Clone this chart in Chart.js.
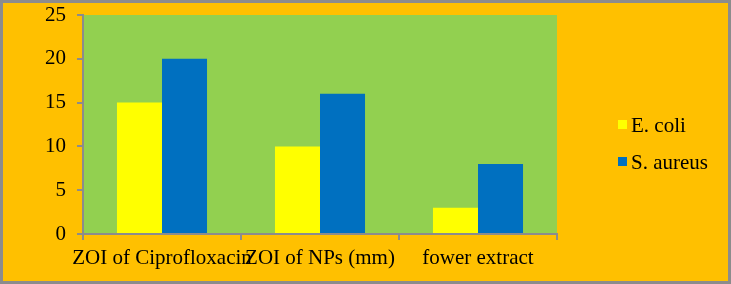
<!DOCTYPE html>
<html>
<head>
<meta charset="utf-8">
<script src="https://cdn.jsdelivr.net/npm/chart.js@4/dist/chart.umd.min.js"></script>
<style>
  html, body { margin: 0; padding: 0; background: #FFC000; }
  #wrap { width: 731px; height: 284px; }
</style>
</head>
<body>
<div id="wrap"><canvas id="c" width="731" height="284"></canvas></div>
<script>
/* DATA */
var categories = ["ZOI of Ciprofloxacin", "ZOI of NPs (mm)", "fower extract"];
var eColi = [15, 10, 3];
var sAureus = [20, 16, 8];
var seriesNames = ["E. coli", "S. aureus"];
var yTicks = [0, 5, 10, 15, 20, 25];

var FONT = "'Liberation Serif', 'Times New Roman', serif";
var GREY = "#8c8c8c";

// фон, зелёная область графика, рамка и легенда справа
var paintPlugin = {
    id: 'paint',
    beforeDraw: function (chart) {
        var ctx = chart.ctx, a = chart.chartArea;
        ctx.save();
        ctx.fillStyle = "#FFC000";
        ctx.fillRect(0, 0, chart.width, chart.height);
        ctx.fillStyle = "#92D050";
        ctx.fillRect(a.left, a.top, a.right - a.left, a.bottom - a.top);
        ctx.restore();
    },
    afterDraw: function (chart) {
        var ctx = chart.ctx;
        ctx.save();
        ctx.font = "21px " + FONT;
        ctx.textBaseline = "middle";
        chart.data.datasets.forEach(function (ds, i) {
            var y = 125 + i * 37;
            ctx.fillStyle = ds.backgroundColor;
            ctx.fillRect(618, y - 5, 9, 9);
            ctx.fillStyle = "#000";
            ctx.fillText(ds.label, 631, y + 1);
        });
        ctx.strokeStyle = GREY;
        ctx.lineWidth = 3;
        ctx.strokeRect(1.5, 1.5, chart.width - 3, chart.height - 3);
        ctx.restore();
    }
};

new Chart(document.getElementById('c').getContext('2d'), {
    type: 'bar',
    data: {
        labels: categories,
        datasets: [
            { label: seriesNames[0], data: eColi, backgroundColor: "#FFFF00",
              categoryPercentage: 0.57, barPercentage: 1.0 },
            { label: seriesNames[1], data: sAureus, backgroundColor: "#0070C0",
              categoryPercentage: 0.57, barPercentage: 1.0 }
        ]
    },
    options: {
        responsive: false,
        animation: false,
        layout: { padding: { left: 0, top: 15, right: 174, bottom: 0 } },
        scales: {
            x: {
                offset: true,
                grid: { offset: true, drawOnChartArea: false, color: GREY, lineWidth: 2, tickLength: 6 },
                border: { color: GREY, width: 2 },
                ticks: {
                    autoSkip: false, maxRotation: 0, minRotation: 0,
                    color: "#000", padding: 6,
                    font: { family: FONT, size: 21 }
                },
                afterFit: function (s) { s.height = 50; s.paddingLeft = 0; s.paddingRight = 0; }
            },
            y: {
                min: 0, max: 25,
                afterBuildTicks: function (s) { s.ticks = yTicks.map(function (v) { return { value: v }; }); },
                grid: { drawOnChartArea: false, color: GREY, lineWidth: 2, tickLength: 6 },
                border: { color: GREY, width: 2 },
                ticks: {
                    color: "#000", padding: 11,
                    font: { family: FONT, size: 21 }
                },
                afterFit: function (s) { s.width = 83; s.paddingTop = 0; s.paddingBottom = 0; }
            }
        },
        plugins: {
            legend: { display: false },
            tooltip: { enabled: false }
        }
    },
    plugins: [paintPlugin]
});
</script>
</body>
</html>
